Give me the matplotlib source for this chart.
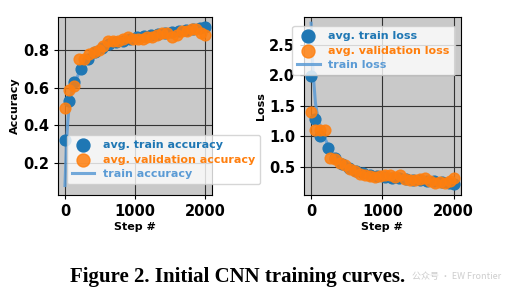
import matplotlib
matplotlib.use("Agg")
import matplotlib.pyplot as plt

# averaged points (accuracy)
acc_steps = [0, 60, 130, 230, 330, 430, 530, 630, 730, 830, 930, 1030, 1130,
             1230, 1330, 1430, 1530, 1630, 1730, 1830, 1930, 2000]
acc_train_avg = [0.32, 0.53, 0.63, 0.70, 0.75, 0.79, 0.81, 0.83, 0.84, 0.85, 0.86,
                 0.87, 0.875, 0.88, 0.885, 0.89, 0.895, 0.90, 0.905, 0.91, 0.915, 0.92]
val_steps = [0, 60, 130, 200, 270, 340, 410, 480, 550, 620, 690, 760, 830, 900,
             970, 1040, 1110, 1180, 1250, 1320, 1390, 1460, 1530, 1600, 1670,
             1740, 1810, 1880, 1950, 2000]
acc_val_avg = [0.49, 0.59, 0.61, 0.75, 0.75, 0.78, 0.79, 0.80, 0.82, 0.85, 0.85,
               0.85, 0.86, 0.87, 0.86, 0.86, 0.86, 0.87, 0.87, 0.88, 0.89, 0.89,
               0.87, 0.88, 0.90, 0.90, 0.91, 0.91, 0.89, 0.88]

# raw train curve
line_steps = [0, 20, 40, 60, 80, 100, 130, 160, 200, 250, 300, 350, 400, 450,
              500, 600, 700, 800, 900, 1000, 1100, 1200, 1300, 1400, 1500, 1600,
              1700, 1800, 1900, 2000]
acc_train_line = [0.08, 0.30, 0.42, 0.50, 0.55, 0.58, 0.62, 0.64, 0.68, 0.71, 0.74,
                  0.76, 0.78, 0.79, 0.80, 0.82, 0.83, 0.84, 0.855, 0.86, 0.87, 0.875,
                  0.88, 0.885, 0.89, 0.895, 0.90, 0.905, 0.91, 0.915]

# averaged points (loss)
loss_train_avg = [1.98, 1.28, 1.00, 0.80, 0.65, 0.55, 0.48, 0.43, 0.40, 0.37, 0.35,
                  0.33, 0.32, 0.31, 0.30, 0.29, 0.28, 0.27, 0.26, 0.25, 0.23, 0.22]
loss_val_avg = [1.40, 1.10, 1.10, 1.10, 0.65, 0.62, 0.57, 0.53, 0.47, 0.43, 0.38,
                0.36, 0.35, 0.34, 0.35, 0.37, 0.36, 0.34, 0.36, 0.30, 0.29, 0.29,
                0.30, 0.31, 0.26, 0.24, 0.25, 0.24, 0.27, 0.31]
loss_train_line = [2.85, 2.20, 1.85, 1.55, 1.40, 1.30, 1.15, 1.05, 0.95, 0.82, 0.72,
                   0.65, 0.59, 0.55, 0.51, 0.45, 0.41, 0.38, 0.36, 0.34, 0.33, 0.32,
                   0.31, 0.30, 0.29, 0.28, 0.27, 0.26, 0.24, 0.23]

BLUE = "#1f77b4"
ORANGE = "#ff7f0e"
LIGHT = "#5b9bd5"

fig = plt.figure(figsize=(5.06, 2.94), dpi=100)
fig.patch.set_facecolor("white")


def panel(rect, avg_t, avg_v, line, labels, ylabel, ylim, yticks, loc, anchor):
    ax = fig.add_axes(rect)
    ax.set_facecolor("#c9c9c9")
    ax.grid(True, color="#333333", linewidth=0.8)
    ax.set_axisbelow(True)
    ax.plot(line_steps, line, color=LIGHT, lw=2.2, alpha=0.85, label=labels[2], zorder=2)
    ax.scatter(acc_steps, avg_t, s=60, color=BLUE, label=labels[0], zorder=3)
    ax.scatter(val_steps, avg_v, s=60, color=ORANGE, alpha=0.85, label=labels[1], zorder=4)
    ax.set_xlim(-100, 2100)
    ax.set_ylim(*ylim)
    ax.set_xticks([0, 1000, 2000])
    ax.set_yticks(yticks)
    ax.tick_params(labelsize=10.5, length=3)
    for t in ax.get_xticklabels() + ax.get_yticklabels():
        t.set_fontweight("bold")
    ax.set_xlabel("Step #", fontsize=8, fontweight="bold", labelpad=2)
    ax.set_ylabel(ylabel, fontsize=8, fontweight="bold", labelpad=2)
    h, l = ax.get_legend_handles_labels()
    order = [1, 2, 0]
    leg = ax.legend([h[i] for i in order], [l[i] for i in order], loc=loc,
                    bbox_to_anchor=anchor, prop={"weight": "bold", "size": 8},
                    framealpha=0.8, handlelength=2.0, borderpad=0.45,
                    labelspacing=0.4, markerscale=1.2)
    for txt, c in zip(leg.get_texts(), [BLUE, ORANGE, LIGHT]):
        txt.set_color(c)
    return ax


panel([0.1146, 0.337, 0.304, 0.605], acc_train_avg, acc_val_avg, acc_train_line,
      ["avg. train accuracy", "avg. validation accuracy", "train accuracy"],
      "Accuracy", (0.03, 0.975), [0.2, 0.4, 0.6, 0.8], "lower left", (0.02, 0.03))
panel([0.6008, 0.337, 0.310, 0.605], loss_train_avg, loss_val_avg, loss_train_line,
      ["avg. train loss", "avg. validation loss", "train loss"],
      "Loss", (0.04, 2.95), [0.5, 1.0, 1.5, 2.0, 2.5], "upper left", (-0.11, 0.98))

fig.text(0.469, 0.058, "Figure 2. Initial CNN training curves.", ha="center", va="center",
         fontsize=15, fontweight="bold", family="Liberation Serif")
fig.text(0.99, 0.058, "公众号 · EW Frontier", ha="right", va="center", fontsize=6.5,
         color="#c8c8c8", family=["Noto Sans CJK SC", "DejaVu Sans"], alpha=0.9)

fig.savefig("out.png", dpi=100)
